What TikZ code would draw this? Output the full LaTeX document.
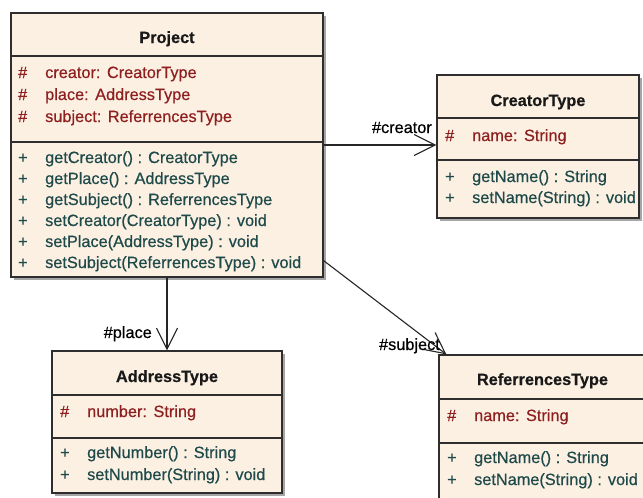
\documentclass[tikz,border=0pt]{standalone}
\usepackage{fontspec}
\setmainfont{Liberation Sans}[FakeBold=0.5]
\usetikzlibrary{arrows.meta,shadows}
\definecolor{umlfill}{HTML}{FCF0E3}
\definecolor{umlline}{HTML}{2E2E2E}
\definecolor{attrred}{HTML}{8E1F1F}
\definecolor{methteal}{HTML}{1E4A4A}
\newcommand{\umlfont}{\fontsize{16.3}{19}\selectfont}
\begin{document}
\begin{tikzpicture}[x=1pt,y=-1pt,
  classbox/.style={draw=umlline, line width=1.3pt, fill=umlfill, inner sep=0pt,
    drop shadow={shadow xshift=3pt, shadow yshift=-3pt, fill=black, opacity=0.35}},
  divider/.style={draw=umlline, line width=1.1pt},
  title/.style={font=\umlfont\bfseries, text=black!90, anchor=base, inner sep=0pt},
  attr/.style={font=\umlfont, text=attrred, anchor=base west, inner sep=0pt},
  meth/.style={font=\umlfont, text=methteal, anchor=base west, inner sep=0pt},
  role/.style={font=\umlfont, text=black, anchor=base east, inner sep=0pt},
  assoc/.style={draw=black!85, line width=1.1pt,
    -{Straight Barb[length=21pt,width=21pt,line width=1.1pt]}}
]
\clip (0,0) rectangle (643,498);
\fill[white] (0,0) rectangle (643,498);

% ---------- Project ----------
\node[classbox, minimum width=312pt, minimum height=264pt] (project) at (167,145) {};
\draw[divider] (project.west |- 0,56) -- (project.east |- 0,56);
\draw[divider] (project.west |- 0,142) -- (project.east |- 0,142);
\node[title] (p-title) at (project.center |- 0,43) {Project};
\node[attr] (p-a1) at (18,78)  {\makebox[27pt][l]{\#}creator:\hspace{0.4em}CreatorType};
\node[attr] (p-a2) at (18,100) {\makebox[27pt][l]{\#}place:\hspace{0.4em}AddressType};
\node[attr] (p-a3) at (18,122) {\makebox[27pt][l]{\#}subject:\hspace{0.4em}ReferrencesType};
\node[meth] (p-m1) at (18,163) {\makebox[27pt][l]{+}getCreator() : CreatorType};
\node[meth] (p-m2) at (18,184) {\makebox[27pt][l]{+}getPlace() : AddressType};
\node[meth] (p-m3) at (18,205) {\makebox[27pt][l]{+}getSubject() : ReferrencesType};
\node[meth] (p-m4) at (18,226) {\makebox[27pt][l]{+}setCreator(CreatorType) : void};
\node[meth] (p-m5) at (18,247) {\makebox[27pt][l]{+}setPlace(AddressType) : void};
\node[meth] (p-m6) at (18,268) {\makebox[27pt][l]{+}setSubject(ReferrencesType) : void};

% ---------- CreatorType ----------
\node[classbox, minimum width=202pt, minimum height=143pt] (creator) at (538,146.5) {};
\draw[divider] (creator.west |- 0,118) -- (creator.east |- 0,118);
\draw[divider] (creator.west |- 0,160) -- (creator.east |- 0,160);
\node[title] (c-title) at (creator.center |- 0,106) {CreatorType};
\node[attr] (c-a1) at (445,141) {\makebox[27pt][l]{\#}name:\hspace{0.4em}String};
\node[meth] (c-m1) at (445,182) {\makebox[27pt][l]{+}getName() : String};
\node[meth] (c-m2) at (445,203) {\makebox[27pt][l]{+}setName(String) : void};

% ---------- AddressType ----------
\node[classbox, minimum width=230pt, minimum height=142pt] (address) at (167,422) {};
\draw[divider] (address.west |- 0,395) -- (address.east |- 0,395);
\draw[divider] (address.west |- 0,438) -- (address.east |- 0,438);
\node[title] (a-title) at (address.center |- 0,382) {AddressType};
\node[attr] (a-a1) at (60,417) {\makebox[27pt][l]{\#}number:\hspace{0.4em}String};
\node[meth] (a-m1) at (60,458) {\makebox[27pt][l]{+}getNumber() : String};
\node[meth] (a-m2) at (60,480) {\makebox[27pt][l]{+}setNumber(String) : void};

% ---------- ReferrencesType ----------
\node[classbox, minimum width=207pt, minimum height=165pt] (refs) at (542.5,437.5) {};
\draw[divider] (refs.west |- 0,399) -- (refs.east |- 0,399);
\draw[divider] (refs.west |- 0,443) -- (refs.east |- 0,443);
\node[title] (r-title) at (refs.center |- 0,385) {ReferrencesType};
\node[attr] (r-a1) at (447,421) {\makebox[27pt][l]{\#}name:\hspace{0.4em}String};
\node[meth] (r-m1) at (447,463) {\makebox[27pt][l]{+}getName() : String};
\node[meth] (r-m2) at (447,485) {\makebox[27pt][l]{+}setName(String) : void};

% ---------- associations ----------
\draw[assoc] (project.east) -- (project.east -| creator.west);
\draw[assoc] (project.south) -- (address.north);
\draw[assoc] ([yshift=17pt]project.south east) -- ([xshift=8pt]refs.north west);

\node[role] (l-creator) at (432,133) {\#creator};
\node[role] (l-place)   at (152,338) {\#place};
\node[role] (l-subject) at (440,350) {\#subject};
\end{tikzpicture}
\end{document}
